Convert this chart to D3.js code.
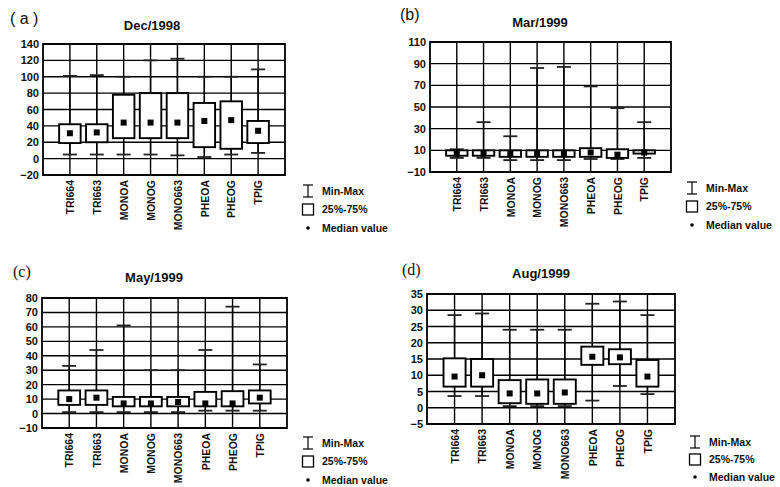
<!DOCTYPE html>
<html>
<head>
<meta charset="utf-8">
<script src="https://cdn.jsdelivr.net/npm/d3@7"></script>
<style>
  body { margin: 0; background: #fff; }
  text { font-family: "Liberation Sans", Arial, sans-serif; fill: #111; }
</style>
</head>
<body>
<svg id="chart" width="780" height="487"></svg>
<script>
const categories = ['TRI664', 'TRI663', 'MONOA', 'MONOG', 'MONO663', 'PHEOA', 'PHEOG', 'TPIG']
const legendLabels = ['Min-Max', '25%-75%', 'Median value']

// Dec/1998
const decTicks = [140, 120, 100, 80, 60, 40, 20, 0, -20]
const decMin = [5, 5, 5, 5, 4, 2, 5, 7]
const decQ1 = [19, 20, 25, 25, 25, 14, 12, 19]
const decMedian = [31, 32, 44, 44, 44, 46, 47, 34]
const decQ3 = [42, 42, 78, 80, 80, 68, 70, 46]
const decMax = [101, 102, 100, 120, 122, 100, 100, 109]

// Mar/1999
const marTicks = [110, 90, 70, 50, 30, 10, -10]
const marMin = [3, 3, 1, 1, 1, 2, 2, 3]
const marQ1 = [5, 5, 4, 4, 4, 4, 3, 7]
const marMedian = [7, 7, 7, 7, 7, 8, 6, 8]
const marQ3 = [10, 10, 10, 10, 10, 12, 11, 10]
const marMax = [11, 36, 23, 86, 87, 69, 49, 36]

// May/1999
const mayTicks = [80, 70, 60, 50, 40, 30, 20, 10, 0, -10]
const mayMin = [1, 1, 1, 1, 1, 2, 2, 2]
const mayQ1 = [6, 6, 5, 5, 5, 5, 5, 7]
const mayMedian = [10, 11, 7, 7, 8, 7, 7, 11]
const mayQ3 = [16, 16, 11.5, 11.5, 11.5, 15, 15.5, 16]
const mayMax = [33, 44, 61, 30, 30, 44, 74, 34]

// Aug/1999
const augTicks = [35, 30, 25, 20, 15, 10, 5, 0, -5]
const augMin = [3.6, 3.6, 0.5, 0.5, 0.5, 2.2, 6.7, 4.2]
const augQ1 = [6.5, 6.5, 1.4, 1.2, 1.2, 13.2, 13.4, 6.5]
const augMedian = [9.6, 10, 4.4, 4.4, 4.7, 15.7, 15.5, 9.6]
const augQ3 = [15.2, 15, 8.5, 8.7, 8.7, 18.8, 18, 14.7]
const augMax = [28.5, 29, 24, 24, 24, 32, 32.7, 28.5]

const toRows = (mins, q1s, meds, q3s, maxs) =>
  categories.map((c, i) => ({ cat: c, min: mins[i], q1: q1s[i], med: meds[i], q3: q3s[i], max: maxs[i] }))

const panels = [
  {
    tag: '( a )', tagFont: 'sans-serif', tagX: 10, tagY: 24,
    title: 'Dec/1998', titleX: 152, titleY: 30,
    ticks: decTicks, rows: toRows(decMin, decQ1, decMedian, decQ3, decMax),
    left: 43, right: 285, top: 44, bottom: 175,
    legX: 308, legY: 191, legStep: 18.5,
  },
  {
    tag: '(b)', tagFont: 'sans-serif', tagX: 400, tagY: 20,
    title: 'Mar/1999', titleX: 540, titleY: 27,
    ticks: marTicks, rows: toRows(marMin, marQ1, marMedian, marQ3, marMax),
    left: 430, right: 671, top: 42, bottom: 172,
    legX: 692, legY: 188, legStep: 18.5,
  },
  {
    tag: '(c)', tagFont: 'serif', tagX: 13, tagY: 277,
    title: 'May/1999', titleX: 154, titleY: 282,
    ticks: mayTicks, rows: toRows(mayMin, mayQ1, mayMedian, mayQ3, mayMax),
    left: 42, right: 287, top: 298, bottom: 428,
    legX: 308, legY: 443, legStep: 18.5,
  },
  {
    tag: '(d)', tagFont: 'serif', tagX: 402, tagY: 275,
    title: 'Aug/1999', titleX: 541, titleY: 278,
    ticks: augTicks, rows: toRows(augMin, augQ1, augMedian, augQ3, augMax),
    left: 427, right: 675, top: 294, bottom: 424,
    legX: 695, legY: 442, legStep: 17.5,
  },
]

const svg = d3.select('#chart')

function drawPanel(p) {
  const g = svg.append('g')
  const x = d3.scalePoint().domain(categories).range([p.left, p.right]).padding(1)
  const y = d3.scaleLinear()
    .domain([p.ticks[p.ticks.length - 1], p.ticks[0]])
    .range([p.bottom, p.top])
  const step = x.step()
  const boxW = step * 0.8
  const capW = 14

  // horizontal grid
  g.selectAll('.hgrid').data(p.ticks).join('line')
    .attr('x1', p.left).attr('x2', p.right)
    .attr('y1', (d) => y(d)).attr('y2', (d) => y(d))
    .attr('stroke', '#000').attr('stroke-width', 1.4)

  // vertical grid at categories
  g.selectAll('.vgrid').data(categories).join('line')
    .attr('x1', (d) => x(d)).attr('x2', (d) => x(d))
    .attr('y1', p.top).attr('y2', p.bottom)
    .attr('stroke', '#000').attr('stroke-width', 1.4)

  // frame
  g.append('rect')
    .attr('x', p.left).attr('y', p.top)
    .attr('width', p.right - p.left).attr('height', p.bottom - p.top)
    .attr('fill', 'none').attr('stroke', '#000').attr('stroke-width', 1.8)

  // y axis
  const yAxis = d3.axisLeft(y).tickValues(p.ticks).tickSize(0).tickPadding(4)
  g.append('g').attr('transform', `translate(${p.left},0)`)
    .call(yAxis)
    .call((s) => s.select('.domain').remove())
    .selectAll('text')
    .style('font-size', '11px').style('font-weight', 'bold')

  // x axis, rotated labels
  const xAxis = d3.axisBottom(x).tickSize(0)
  g.append('g').attr('transform', `translate(0,${p.bottom})`)
    .call(xAxis)
    .call((s) => s.select('.domain').remove())
    .selectAll('text')
    .attr('transform', 'rotate(-90)')
    .attr('x', -5).attr('y', 0).attr('dy', '0.35em')
    .attr('text-anchor', 'end')
    .style('font-size', '10.5px').style('font-weight', 'bold')

  // boxes
  const box = g.selectAll('.box').data(p.rows).join('g')
  box.append('line')
    .attr('x1', (d) => x(d.cat)).attr('x2', (d) => x(d.cat))
    .attr('y1', (d) => y(d.min)).attr('y2', (d) => y(d.max))
    .attr('stroke', '#000').attr('stroke-width', 1.4)
  box.append('line')
    .attr('x1', (d) => x(d.cat) - capW / 2).attr('x2', (d) => x(d.cat) + capW / 2)
    .attr('y1', (d) => y(d.max)).attr('y2', (d) => y(d.max))
    .attr('stroke', '#222').attr('stroke-width', 1.8)
  box.append('line')
    .attr('x1', (d) => x(d.cat) - capW / 2).attr('x2', (d) => x(d.cat) + capW / 2)
    .attr('y1', (d) => y(d.min)).attr('y2', (d) => y(d.min))
    .attr('stroke', '#222').attr('stroke-width', 1.8)
  box.append('rect')
    .attr('x', (d) => x(d.cat) - boxW / 2).attr('width', boxW)
    .attr('y', (d) => y(d.q3)).attr('height', (d) => y(d.q1) - y(d.q3))
    .attr('fill', '#fff').attr('stroke', '#000').attr('stroke-width', 1.9)
  box.append('rect')
    .attr('x', (d) => x(d.cat) - 3).attr('y', (d) => y(d.med) - 3)
    .attr('width', 6).attr('height', 6)
    .attr('fill', '#000')

  // labels
  g.append('text').attr('x', p.tagX).attr('y', p.tagY)
    .style('font-family', p.tagFont === 'serif' ? '"Liberation Serif", "DejaVu Serif", serif' : null)
    .style('font-size', '16px')
    .text(p.tag)
  g.append('text').attr('x', p.titleX).attr('y', p.titleY)
    .attr('text-anchor', 'middle')
    .style('font-size', '13px').style('font-weight', 'bold')
    .text(p.title)

  // legend
  const lg = g.append('g')
  const ly = (i) => p.legY + i * p.legStep
  lg.append('line').attr('x1', p.legX).attr('x2', p.legX)
    .attr('y1', ly(0) - 6).attr('y2', ly(0) + 6).attr('stroke', '#000').attr('stroke-width', 1.2)
  lg.selectAll('.cap').data([-6, 6]).join('line')
    .attr('x1', p.legX - 5).attr('x2', p.legX + 5)
    .attr('y1', (d) => ly(0) + d).attr('y2', (d) => ly(0) + d)
    .attr('stroke', '#000').attr('stroke-width', 1.2)
  lg.append('rect').attr('x', p.legX - 5.5).attr('y', ly(1) - 5.5)
    .attr('width', 11).attr('height', 11)
    .attr('fill', '#fff').attr('stroke', '#000').attr('stroke-width', 1.3)
  lg.append('circle').attr('cx', p.legX).attr('cy', ly(2)).attr('r', 1.8).attr('fill', '#000')
  lg.selectAll('.lt').data(legendLabels).join('text')
    .attr('x', p.legX + 14).attr('y', (d, i) => ly(i)).attr('dy', '0.35em')
    .style('font-size', '10.5px').style('font-weight', 'bold')
    .text((d) => d)
}

panels.forEach(drawPanel)
</script>
</body>
</html>
